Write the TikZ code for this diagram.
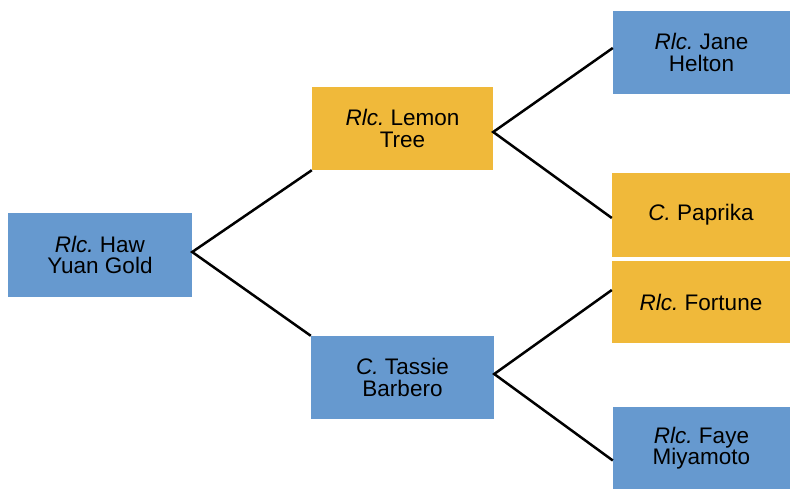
\documentclass[tikz,border=0pt]{standalone}
\usepackage{fontspec}
\setmainfont{Liberation Sans}
\definecolor{boxblue}{RGB}{102,153,207}
\definecolor{boxorange}{RGB}{240,185,58}
\begin{document}
\begin{tikzpicture}[x=1pt,y=1pt,
  box/.style={rectangle, inner sep=0pt, align=center, text=black,
    font=\fontsize{22.5}{21.5}\selectfont},
  bluebox/.style={box, fill=boxblue},
  orangebox/.style={box, fill=boxorange},
  link/.style={black, line width=2.5pt}]
\useasboundingbox (0,0) rectangle (790,488);
\node[bluebox, minimum width=184, minimum height=84] (haw) at (100,233) {\textit{Rlc.}\ Haw\\Yuan Gold};
\node[orangebox, minimum width=181, minimum height=83] (lemon) at (402.5,359.5) {\textit{Rlc.}\ Lemon\\Tree};
\node[bluebox, minimum width=183, minimum height=83] (tassie) at (402.5,110.5) {\textit{C.}\ Tassie\\Barbero};
\node[bluebox, minimum width=177, minimum height=83] (jane) at (701.5,435.5) {\textit{Rlc.}\ Jane\\Helton};
\node[orangebox, minimum width=178, minimum height=84] (paprika) at (701,273) {\textit{C.}\ Paprika};
\node[orangebox, minimum width=178, minimum height=82] (fortune) at (701,186) {\textit{Rlc.}\ Fortune};
\node[bluebox, minimum width=177, minimum height=82] (faye) at (701.5,40) {\textit{Rlc.}\ Faye\\Miyamoto};
\draw[link] (lemon.south west) -- ([yshift=3pt]haw.east) -- (tassie.north west);
\draw[link] ([yshift=4.5pt]jane.west) -- ([yshift=-3.5pt]lemon.east) -- ([yshift=-3pt]paprika.west);
\draw[link] ([yshift=12pt]fortune.west) -- ([yshift=3.5pt]tassie.east) -- ([yshift=-12.5pt]faye.west);
\end{tikzpicture}
\end{document}
